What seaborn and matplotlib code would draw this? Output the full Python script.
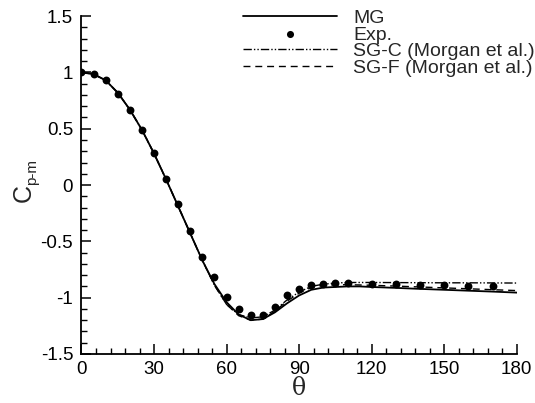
import numpy as np
import pandas as pd
import matplotlib
matplotlib.use("Agg")
import matplotlib.pyplot as plt
import seaborn as sns

# ---- data ----
theta_exp = [0, 5, 10, 15, 20, 25, 30, 35, 40, 45, 50, 55, 60, 65, 70, 75, 80, 85,
             90, 95, 100, 105, 110, 120, 130, 140, 150, 160, 170]
cp_exp = [1.0, 0.99, 0.93, 0.81, 0.67, 0.49, 0.285, 0.055, -0.17, -0.41, -0.64, -0.82,
          -0.99, -1.10, -1.15, -1.15, -1.08, -0.98, -0.92, -0.89, -0.88, -0.87, -0.87,
          -0.875, -0.88, -0.89, -0.89, -0.90, -0.90]

theta_line = [0, 5, 10, 15, 20, 25, 30, 35, 40, 45, 50, 55, 60, 65, 70, 75, 80, 85,
              90, 95, 100, 105, 110, 115, 120, 130, 140, 150, 160, 170, 180]
cp_mg = [1.0, 0.985, 0.93, 0.82, 0.67, 0.49, 0.28, 0.05, -0.19, -0.43, -0.67, -0.88,
         -1.04, -1.15, -1.20, -1.19, -1.13, -1.05, -0.98, -0.93, -0.91, -0.905, -0.90,
         -0.90, -0.905, -0.913, -0.922, -0.93, -0.938, -0.946, -0.955]
cp_sgc = [1.0, 0.985, 0.93, 0.82, 0.67, 0.49, 0.28, 0.05, -0.19, -0.43, -0.67, -0.89,
          -1.06, -1.15, -1.18, -1.17, -1.11, -1.02, -0.95, -0.90, -0.88, -0.87, -0.865,
          -0.865, -0.865, -0.866, -0.867, -0.868, -0.868, -0.869, -0.87]
cp_sgf = [1.0, 0.985, 0.93, 0.82, 0.67, 0.49, 0.28, 0.05, -0.19, -0.43, -0.67, -0.89,
          -1.06, -1.16, -1.20, -1.19, -1.12, -1.03, -0.96, -0.91, -0.89, -0.885, -0.885,
          -0.887, -0.89, -0.897, -0.905, -0.913, -0.921, -0.929, -0.937]

x_ticks = [0, 30, 60, 90, 120, 150, 180]
y_ticks = [-1.5, -1, -0.5, 0, 0.5, 1, 1.5]
y_ticklabels = ["-1.5", "-1", "-0.5", "0", "0.5", "1", "1.5"]
legend_labels = ["MG", "Exp.", "SG-C (Morgan et al.)", "SG-F (Morgan et al.)"]

sns.set_theme(style="ticks")
plt.rcParams["font.family"] = ["Liberation Sans", "DejaVu Sans"]

fig = plt.figure(figsize=(5.35, 4.03), dpi=100)
ax = fig.add_axes([0.1523, 0.1216, 0.966 - 0.1523, 0.960 - 0.1216])

df_lines = pd.DataFrame({"theta": theta_line, "MG": cp_mg, "SGC": cp_sgc, "SGF": cp_sgf})
df_exp = pd.DataFrame({"theta": theta_exp, "cp": cp_exp})

sns.lineplot(data=df_lines, x="theta", y="MG", ax=ax, color="black", lw=1.3,
             label=legend_labels[0], sort=False)
sns.scatterplot(data=df_exp, x="theta", y="cp", ax=ax, color="black", s=32,
                edgecolor="black", linewidth=0, label=legend_labels[1], zorder=5)
sns.lineplot(data=df_lines, x="theta", y="SGC", ax=ax, color="black", lw=1.0,
             linestyle=(0, (6, 1.5, 1, 1.5, 1, 1.5)), label=legend_labels[2], sort=False)
sns.lineplot(data=df_lines, x="theta", y="SGF", ax=ax, color="black", lw=1.0,
             linestyle=(0, (5, 3.5)), label=legend_labels[3], sort=False)

ax.set_xlim(0, 180)
ax.set_ylim(-1.5, 1.5)
ax.set_xticks(x_ticks)
ax.set_xticklabels([str(t) for t in x_ticks])
ax.set_yticks(y_ticks)
ax.set_yticklabels(y_ticklabels)
ax.set_xticks(np.arange(0, 181, 6), minor=True)
ax.set_yticks(np.arange(-1.5, 1.51, 0.1), minor=True)

for s in ["top", "right"]:
    ax.spines[s].set_visible(False)
for s in ["left", "bottom"]:
    ax.spines[s].set_linewidth(1.3)
    ax.spines[s].set_color("black")

ax.tick_params(which="major", direction="in", length=7.5, width=1.1, labelsize=13.5,
               colors="black")
ax.tick_params(axis="y", which="major", pad=6)
ax.tick_params(axis="x", which="major", pad=5)
ax.tick_params(which="minor", direction="in", length=4, width=1.0, colors="black")

ax.set_xlabel("θ", fontsize=17, family=["DejaVu Serif"], labelpad=-1)
ax.set_ylabel("")
# y label: C with subscript p-m
fig.text(24 / 535, 1 - 193 / 403, "C", rotation=90, fontsize=18, ha="center", va="center")
fig.text(32 / 535, 1 - 172 / 403, "p-m", rotation=90, fontsize=11, ha="center", va="center")

handles, labels = ax.get_legend_handles_labels()
leg = ax.legend(handles, labels, loc="upper left", bbox_to_anchor=(243 / 535, 0.977),
                bbox_transform=fig.transFigure, frameon=False, fontsize=14,
                handlelength=4.84, handletextpad=0.82, labelspacing=-0.05,
                borderaxespad=0, borderpad=0, markerscale=0.9)

fig.savefig("out.png", dpi=100)
